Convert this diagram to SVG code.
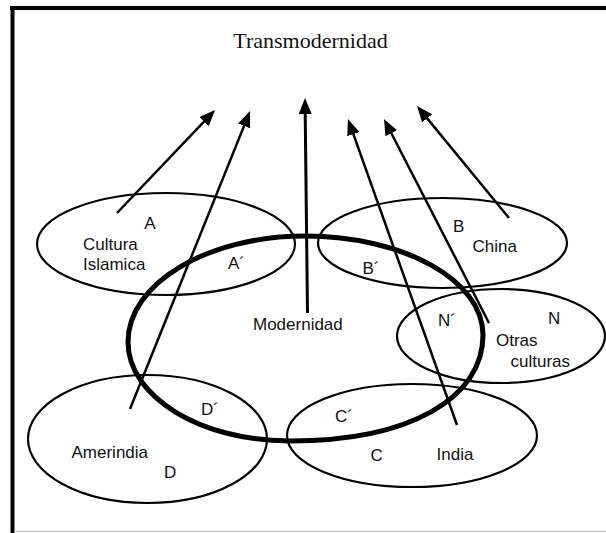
<svg xmlns="http://www.w3.org/2000/svg" width="606" height="533" viewBox="0 0 606 533">
<style>
.e{fill:none;stroke:#000;stroke-width:2.2}
.big{fill:none;stroke:#000;stroke-width:5}
.t{font-family:"Liberation Sans",Arial,sans-serif;font-size:17px;fill:#111}
.title{font-family:"Liberation Serif","Times New Roman",serif;font-size:22px;fill:#111}
.a{stroke:#000;stroke-width:2.5;fill:none;marker-end:url(#ah)}
</style>
<defs>
<marker id="ah" markerUnits="userSpaceOnUse" markerWidth="18" markerHeight="14" refX="10" refY="6.5" orient="auto">
<path d="M0,0 L16,6.5 L0,13 Z" fill="#000"/>
</marker>
</defs>
<rect width="606" height="533" fill="#fff"/>
<g id="frame">
<line x1="10" y1="8" x2="606" y2="8" stroke="#000" stroke-width="4"/>
<line x1="12.5" y1="6" x2="12.5" y2="533" stroke="#000" stroke-width="4"/>
<line x1="14" y1="531.5" x2="606" y2="531.5" stroke="#ccc" stroke-width="1.5"/>
</g>
<text id="title" class="title" x="310.5" y="48" text-anchor="middle">Transmodernidad</text>
<g id="islam">
<ellipse class="e" cx="166" cy="244" rx="129" ry="51"/>
<text class="t" x="150" y="228.5" text-anchor="middle">A</text>
<text class="t" x="83" y="249.5">Cultura</text>
<text class="t" x="83" y="270">Islamica</text>
<text class="t" x="228" y="268.5">A´</text>
</g>
<g id="china">
<ellipse class="e" cx="442.5" cy="243" rx="124.5" ry="45"/>
<text class="t" x="453" y="231.5">B</text>
<text class="t" x="472.5" y="251.5">China</text>
<text class="t" x="362.5" y="273.5">B´</text>
</g>
<g id="otras">
<ellipse class="e" cx="501" cy="336" rx="104" ry="47"/>
<text class="t" x="438" y="326">N´</text>
<text class="t" x="548" y="324">N</text>
<text class="t" x="496" y="345.5">Otras</text>
<text class="t" x="510.5" y="367">culturas</text>
</g>
<g id="amerindia">
<ellipse class="e" cx="147.5" cy="439" rx="119.5" ry="64"/>
<text class="t" x="201" y="415">D´</text>
<text class="t" x="71.5" y="457.5">Amerindia</text>
<text class="t" x="164" y="477.5">D</text>
</g>
<g id="india">
<ellipse class="e" cx="412" cy="435.5" rx="125" ry="51.5"/>
<text class="t" x="335" y="421.5">C´</text>
<text class="t" x="370.5" y="461">C</text>
<text class="t" x="436.5" y="460">India</text>
</g>
<g id="modernidad">
<path class="big" d="M128,342 C128,283.5 207,236 305,236 C403,236 483,280 483,335 C483,398 410,441 290,441 C200.6,441 128,396.7 128,342 Z"/>
<text class="t" x="253" y="330">Modernidad</text>
</g>
<g id="connectors">
<line class="a" x1="117" y1="213" x2="210.9" y2="114.3"/>
<line class="a" x1="130" y1="409" x2="247.8" y2="116.6"/>
<line class="a" x1="307.5" y1="313" x2="305.1" y2="104" style="stroke-width:3"/>
<line class="a" x1="457" y1="425" x2="350" y2="124.7"/>
<line class="a" x1="489" y1="323" x2="386.7" y2="124.3"/>
<line class="a" x1="509" y1="218" x2="420.8" y2="110.6"/>
</g>
</svg>
